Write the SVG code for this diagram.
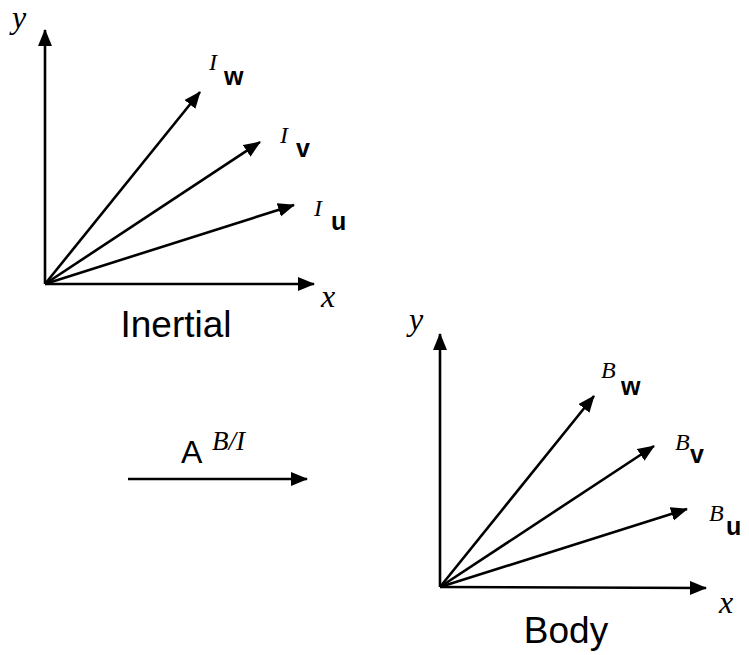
<svg xmlns="http://www.w3.org/2000/svg" width="749" height="655" viewBox="0 0 749 655">
<style>
.ax{stroke:#000;stroke-width:2.6;fill:none;marker-end:url(#ah)}
.it{font-family:"Liberation Serif",serif;font-style:italic;font-size:32px;fill:#000}
.sup{font-family:"Liberation Serif",serif;font-style:italic;font-size:24px;fill:#000}
.bv{font-family:"Liberation Sans",Arial,sans-serif;font-weight:bold;font-size:25px;fill:#000}
.lbl{font-family:"Liberation Sans",Arial,sans-serif;font-size:37px;fill:#000}
</style>
<defs>
<marker id="ah" markerUnits="userSpaceOnUse" markerWidth="18" markerHeight="16" refX="16" refY="7" orient="auto">
<path d="M0,0 L17,7 L0,14 z" fill="#000"/>
</marker>
</defs>
<g id="connectors">
<line class="ax" x1="45" y1="284" x2="45" y2="30"/>
<line class="ax" x1="45" y1="284" x2="314" y2="284"/>
<line class="ax" x1="45" y1="284" x2="200" y2="92"/>
<line class="ax" x1="45" y1="284" x2="260" y2="142"/>
<line class="ax" x1="45" y1="284" x2="294" y2="205"/>
<line class="ax" x1="440" y1="587" x2="440" y2="334"/>
<line class="ax" x1="440" y1="587" x2="706" y2="588"/>
<line class="ax" x1="440" y1="587" x2="594" y2="396"/>
<line class="ax" x1="440" y1="587" x2="654" y2="446"/>
<line class="ax" x1="440" y1="587" x2="687" y2="509"/>
<line class="ax" x1="128" y1="479" x2="307" y2="479"/>
</g>
<g id="inertial">
<text class="it" x="12" y="28">y</text>
<text class="it" x="321" y="307">x</text>
<text class="sup" x="209" y="70">I</text><text class="bv" x="224" y="85">w</text>
<text class="sup" x="280" y="143">I</text><text class="bv" x="296" y="157">v</text>
<text class="sup" x="314" y="216">I</text><text class="bv" x="331" y="230">u</text>
<text class="lbl" x="176" y="337" text-anchor="middle">Inertial</text>
</g>
<g id="transform">
<text x="181" y="463" style="font-family:'Liberation Sans',Arial,sans-serif;font-size:32px">A</text>
<text class="sup" x="212" y="450" style="font-size:27px">B/I</text>
</g>
<g id="body">
<text class="it" x="409" y="330">y</text>
<text class="it" x="719" y="613">x</text>
<text class="sup" x="601" y="378">B</text><text class="bv" x="621" y="395">w</text>
<text class="sup" x="675" y="450">B</text><text class="bv" x="690" y="463">v</text>
<text class="sup" x="709" y="521">B</text><text class="bv" x="726" y="535">u</text>
<text class="lbl" x="566" y="643" text-anchor="middle">Body</text>
</g>
</svg>
